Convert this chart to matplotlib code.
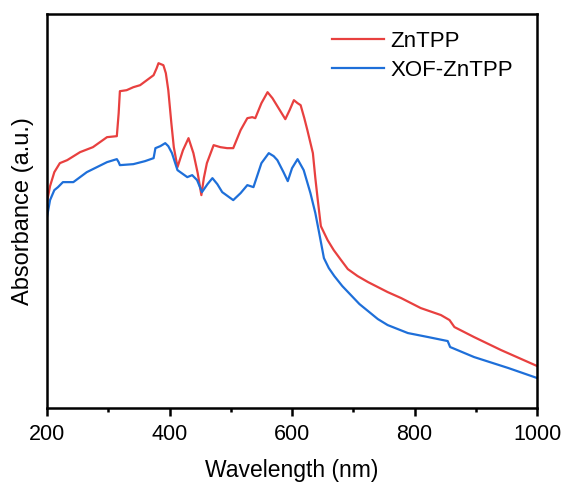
import matplotlib.pyplot as plt
from matplotlib.ticker import MultipleLocator

plt.rcParams['font.family'] = ['Liberation Sans', 'DejaVu Sans']

# absorbance (arbitrary units)
wl_red = [200, 205, 212, 221, 233, 254, 275, 298, 314, 317, 319, 330, 341, 352, 363, 374,
          379, 382, 386, 390, 394, 398, 403, 407, 413, 422, 431, 439, 446, 452, 456, 461,
          472, 483, 494, 504, 516, 527, 535, 540, 550, 560, 568, 578, 589, 596, 603, 609,
          614, 620, 625, 634, 638, 642, 647, 658, 668, 680, 691, 707, 724, 756, 778, 810,
          843, 857, 865, 897, 941, 1000]
abs_red = [2.06, 2.22, 2.36, 2.45, 2.48, 2.56, 2.61, 2.71, 2.72, 2.95, 3.17, 3.18, 3.21, 3.23,
           3.28, 3.33, 3.40, 3.45, 3.44, 3.43, 3.35, 3.18, 2.85, 2.61, 2.41, 2.58, 2.70, 2.55,
           2.35, 2.13, 2.30, 2.45, 2.63, 2.61, 2.60, 2.60, 2.78, 2.90, 2.91, 2.90, 3.05, 3.16,
           3.10, 3.00, 2.89, 2.98, 3.08, 3.05, 3.03, 2.90, 2.78, 2.55, 2.30, 2.08, 1.82, 1.68,
           1.58, 1.48, 1.39, 1.32, 1.26, 1.16, 1.10, 1.00, 0.93, 0.88, 0.81, 0.71, 0.58, 0.42]

wl_blue = [200, 205, 212, 218, 226, 243, 265, 298, 314, 317, 319, 341, 360, 374, 377, 385,
           393, 398, 404, 413, 429, 437, 445, 453, 462, 470, 478, 486, 504, 516, 527, 537,
           550, 562, 570, 576, 586, 593, 600, 609, 619, 630, 638, 644, 652, 660, 669, 682,
           696, 710, 724, 740, 756, 789, 822, 854, 858, 862, 897, 953, 1000]
abs_blue = [1.91, 2.08, 2.18, 2.21, 2.26, 2.26, 2.36, 2.46, 2.49, 2.46, 2.43, 2.44, 2.47, 2.50,
            2.60, 2.62, 2.65, 2.62, 2.55, 2.38, 2.31, 2.33, 2.28, 2.16, 2.24, 2.30, 2.24, 2.16,
            2.08, 2.15, 2.23, 2.21, 2.45, 2.55, 2.52, 2.48, 2.36, 2.27, 2.40, 2.49, 2.38, 2.15,
            1.95, 1.76, 1.50, 1.40, 1.32, 1.22, 1.13, 1.04, 0.97, 0.89, 0.83, 0.75, 0.71, 0.67,
            0.61, 0.60, 0.51, 0.40, 0.30]

fig = plt.figure(figsize=(5.66, 4.82), dpi=100)
ax = fig.add_axes([0.083, 0.1535, 0.866, 0.817])

ax.plot(wl_red, abs_red, color='#E8403F', lw=1.6, label='ZnTPP')
ax.plot(wl_blue, abs_blue, color='#1E6FD9', lw=1.6, label='XOF-ZnTPP')

ax.set_xlim(200, 1000)
ax.set_ylim(0, 3.94)
ax.xaxis.set_major_locator(MultipleLocator(200))
ax.xaxis.set_minor_locator(MultipleLocator(100))
ax.set_yticks([])
ax.tick_params(axis='x', which='major', direction='out', length=5.5, width=1.8,
               labelsize=15.5, pad=6)
ax.tick_params(axis='x', which='minor', direction='out', length=3, width=1.8)
for s in ax.spines.values():
    s.set_linewidth(1.8)

ax.set_xlabel('Wavelength (nm)', fontsize=16.5, labelpad=10)
ax.set_ylabel('Absorbance (a.u.)', fontsize=17, labelpad=9)

ax.legend(loc='upper right', bbox_to_anchor=(1 - 15 / 490, 1 - 8 / 394), borderaxespad=0,
          frameon=False, fontsize=16, handlelength=2.3, handletextpad=0.32, labelspacing=0.35)

plt.savefig('out.png', dpi=100)
